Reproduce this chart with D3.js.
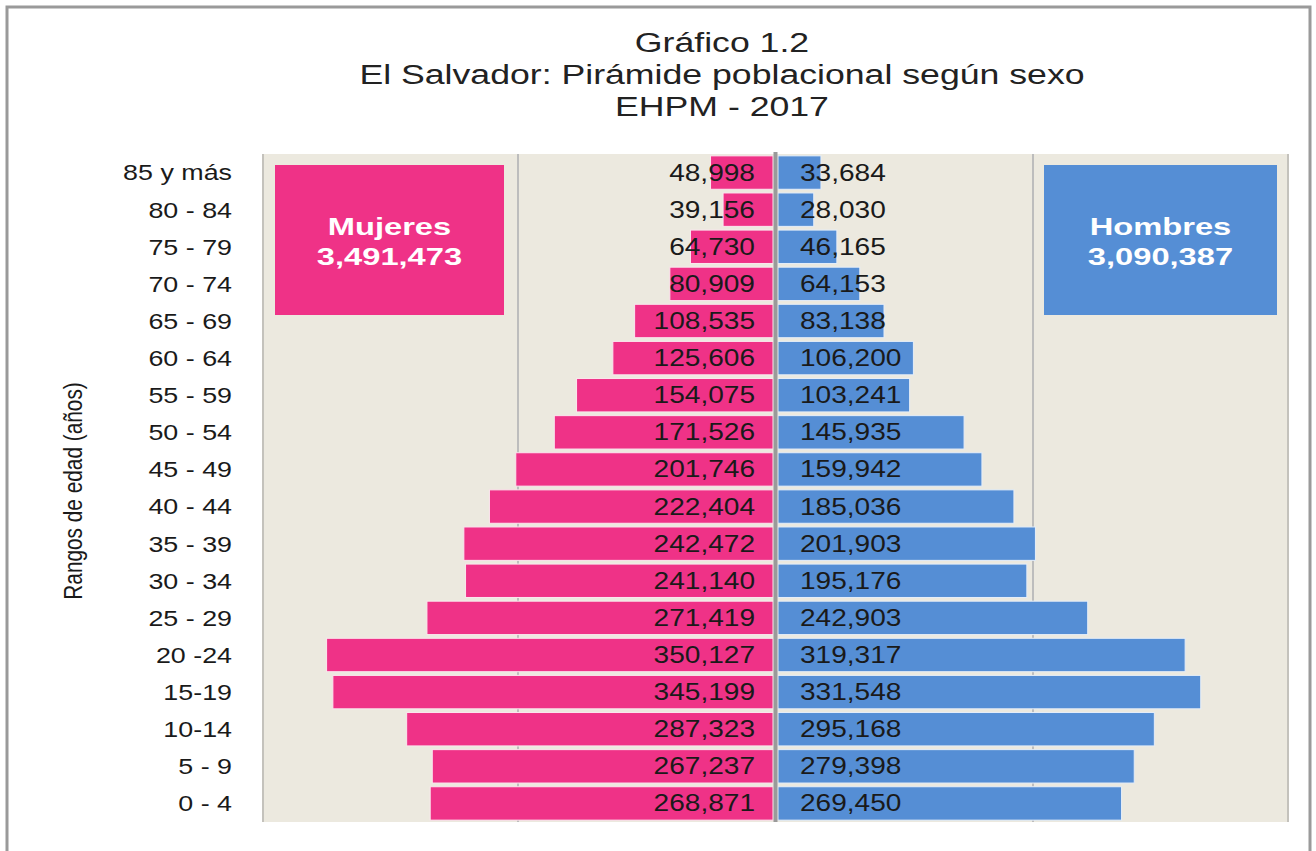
<!DOCTYPE html>
<html>
<head>
<meta charset="utf-8">
<script src="https://cdn.jsdelivr.net/npm/d3@7"></script>
<style>
  body { margin: 0; background: #fff; }
  text { font-family: "Liberation Sans", Arial, sans-serif; }
</style>
</head>
<body>
<div id="main"><svg width="1316" height="851"></svg></div>
<script>
const ages = ["85 y más", "80 - 84", "75 - 79", "70 - 74", "65 - 69", "60 - 64", "55 - 59",
  "50 - 54", "45 - 49", "40 - 44", "35 - 39", "30 - 34", "25 - 29", "20 -24", "15-19",
  "10-14", "5 - 9", "0 - 4"];
const mujeres = [48998, 39156, 64730, 80909, 108535, 125606, 154075, 171526, 201746,
  222404, 242472, 241140, 271419, 350127, 345199, 287323, 267237, 268871];
const hombres = [33684, 28030, 46165, 64153, 83138, 106200, 103241, 145935, 159942,
  185036, 201903, 195176, 242903, 319317, 331548, 295168, 279398, 269450];
const totalMujeres = 3491473;
const totalHombres = 3090387;
const titleLines = ["Gráfico 1.2", "El Salvador: Pirámide poblacional según sexo", "EHPM - 2017"];
const gridValues = [200000];

const svg = d3.select("svg");
const fmt = d3.format(",");
const PINK = "#ef3287", BLUE = "#558ed5";
const K = 1.22; // horizontal stretch of the original lettering

// widen text horizontally like the source image
function stretch(sel, k) {
  sel.each(function () {
    const len = this.getComputedTextLength();
    d3.select(this).attr("textLength", len * k).attr("lengthAdjust", "spacingAndGlyphs");
  });
}

// outer frame
svg.append("path")
  .attr("d", "M7,860 V7 H1310 V860")
  .attr("fill", "none")
  .attr("stroke", "#9a9a9a")
  .attr("stroke-width", 3);

// title
svg.append("g").selectAll("text")
  .data(titleLines)
  .enter().append("text")
  .attr("x", 722)
  .attr("y", (d, i) => [52, 84, 116][i])
  .attr("text-anchor", "middle")
  .attr("font-size", 27)
  .attr("fill", "#222")
  .text(d => d)
  .call(stretch, 1.32);

const y = d3.scaleBand()
  .domain(ages)
  .range([154, 822])
  .paddingInner(0.1)
  .paddingOuter(0.05);

const xF = d3.scaleLinear().domain([0, 400000]).range([773, 263]);
const xM = d3.scaleLinear().domain([0, 400000]).range([778, 1288]);

// plot background
svg.append("rect")
  .attr("x", xF(400000))
  .attr("y", 154)
  .attr("width", xM(400000) - xF(400000))
  .attr("height", 668)
  .attr("fill", "#ece9df");

svg.append("g").selectAll("line")
  .data([xF(400000), xM(400000)])
  .enter().append("line")
  .attr("x1", d => d).attr("x2", d => d)
  .attr("y1", 154).attr("y2", 822)
  .attr("stroke", "#c4c2bc")
  .attr("stroke-width", 2);

// gridlines
const grid = svg.append("g");
grid.selectAll(".gf")
  .data(gridValues)
  .enter().append("line")
  .attr("class", "gf")
  .attr("x1", d => xF(d)).attr("x2", d => xF(d))
  .attr("y1", 154).attr("y2", 822);
grid.selectAll(".gm")
  .data(gridValues)
  .enter().append("line")
  .attr("class", "gm")
  .attr("x1", d => xM(d)).attr("x2", d => xM(d))
  .attr("y1", 154).attr("y2", 822);
grid.selectAll("line")
  .attr("stroke", "#bdbdbd")
  .attr("stroke-width", 2);

// legend boxes
const legend = [
  { name: "Mujeres", total: totalMujeres, color: PINK, x0: 275, x1: 504 },
  { name: "Hombres", total: totalHombres, color: BLUE, x0: 1044, x1: 1277 }
];
const lg = svg.append("g").selectAll("g")
  .data(legend)
  .enter().append("g");
lg.append("rect")
  .attr("x", d => d.x0)
  .attr("y", 165)
  .attr("width", d => d.x1 - d.x0)
  .attr("height", 150)
  .attr("fill", d => d.color);
lg.append("text")
  .attr("x", d => (d.x0 + d.x1) / 2)
  .attr("y", 235)
  .text(d => d.name);
lg.append("text")
  .attr("x", d => (d.x0 + d.x1) / 2)
  .attr("y", 265)
  .text(d => fmt(d.total));
lg.selectAll("text")
  .attr("text-anchor", "middle")
  .attr("font-size", 24)
  .attr("font-weight", "bold")
  .attr("fill", "#fff")
  .call(stretch, 1.36);

// bars
const rows = ages.map((a, i) => ({ age: a, m: mujeres[i], h: hombres[i] }));

svg.append("g").selectAll("rect")
  .data(rows)
  .enter().append("rect")
  .attr("x", d => xF(d.m))
  .attr("y", d => y(d.age))
  .attr("width", d => xF(0) - xF(d.m))
  .attr("height", y.bandwidth())
  .attr("fill", PINK)
  .attr("stroke", "#fbe7ee")
  .attr("stroke-width", 1);

svg.append("g").selectAll("rect")
  .data(rows)
  .enter().append("rect")
  .attr("x", xM(0))
  .attr("y", d => y(d.age))
  .attr("width", d => xM(d.h) - xM(0))
  .attr("height", y.bandwidth())
  .attr("fill", BLUE)
  .attr("stroke", "#e6eef8")
  .attr("stroke-width", 1);

// centre axis
svg.append("line")
  .attr("x1", 775.5).attr("x2", 775.5)
  .attr("y1", 152).attr("y2", 822)
  .attr("stroke", "#9a9a9a")
  .attr("stroke-width", 4);

// value labels
const vl = svg.append("g");
vl.selectAll(".vf")
  .data(rows)
  .enter().append("text")
  .attr("class", "vf")
  .attr("x", 755)
  .attr("text-anchor", "end")
  .text(d => fmt(d.m));
vl.selectAll(".vm")
  .data(rows)
  .enter().append("text")
  .attr("class", "vm")
  .attr("x", 800)
  .attr("text-anchor", "start")
  .text(d => fmt(d.h));
vl.selectAll("text")
  .attr("y", d => y(d.age) + y.bandwidth() / 2 + 8)
  .attr("font-size", 23)
  .attr("fill", "#1a1a1a")
  .call(stretch, K);

// age axis
const ax = svg.append("g")
  .attr("transform", "translate(238,0)")
  .call(d3.axisLeft(y).tickSize(0).tickPadding(6));
ax.select(".domain").remove();
ax.selectAll("text")
  .attr("font-family", "Liberation Sans, Arial, sans-serif")
  .attr("font-size", 22)
  .attr("fill", "#1a1a1a")
  .attr("dy", "0.36em")
  .call(stretch, K);

// axis title
svg.append("text")
  .attr("transform", "translate(82,491) rotate(-90)")
  .attr("text-anchor", "middle")
  .attr("font-size", 26)
  .attr("fill", "#1a1a1a")
  .text("Rangos de edad (años)")
  .call(stretch, 0.8);
</script>
</body>
</html>
